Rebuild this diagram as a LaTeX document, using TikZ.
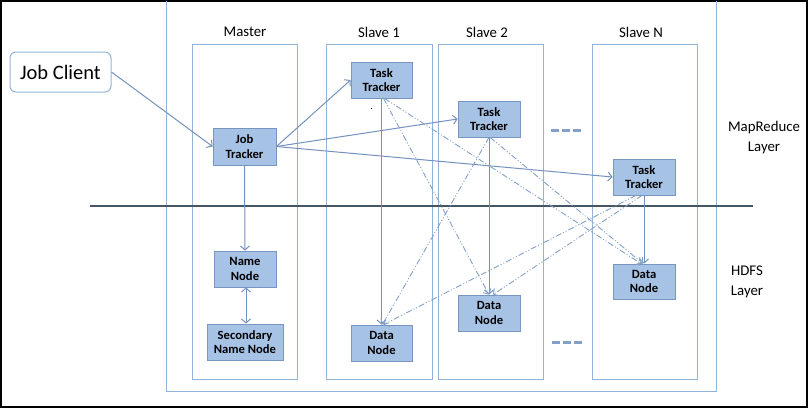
\documentclass[tikz,border=0pt]{standalone}
\usepackage{fontspec}
\setmainfont{Carlito}
\usetikzlibrary{arrows.meta}
\definecolor{boxline}{RGB}{149,179,215}
\definecolor{nodefill}{RGB}{166,195,230}
\definecolor{nodeline}{RGB}{120,150,192}
\definecolor{conn}{RGB}{115,145,190}
\definecolor{dashc}{RGB}{130,160,200}
\definecolor{layerline}{RGB}{70,85,100}
\begin{document}
\begin{tikzpicture}[x=1pt,y=-1pt,
  comp/.style={draw=nodeline, fill=nodefill, line width=0.8pt, minimum width=62pt, minimum height=36pt, inner sep=0pt, align=center, font=\fontsize{12.6}{14.5}\selectfont\bfseries},
  slavebox/.style={draw=boxline, line width=1pt},
  title/.style={font=\fontsize{14.8}{20}\selectfont, align=center, inner sep=0pt},
  arr/.style={draw=conn, line width=1pt, -{Straight Barb[length=4pt,width=9pt]}},
  dd/.style={draw=dashc, line width=0.9pt, dash pattern=on 6pt off 2pt on 1pt off 2pt on 1pt off 2pt, -{Straight Barb[length=4pt,width=9pt]}},
  dots/.style={draw=dashc, line width=3pt, dash pattern=on 8pt off 3pt}
]
\useasboundingbox (0,0) rectangle (808,408);
% outer frame
\draw[black, line width=2pt] (1,1) rectangle (807,407);
% big box
\draw[slavebox] (166,1) -- (166,391) -- (716,391) -- (716,1);
% columns
\draw[slavebox] (192,44) rectangle (297,379);
\draw[slavebox] (326,44) rectangle (432,379);
\draw[slavebox] (438,44) rectangle (543,379);
\draw[slavebox] (592,44) rectangle (697,379);
% column titles
\node[title] (tmaster) at (245,32) {Master};
\node[title] (tslave1) at (379,32) {Slave 1};
\node[title] (tslave2) at (487,32) {Slave 2};
\node[title] (tslaven) at (641,32) {Slave N};
% layer line
\draw[layerline, line width=1.6pt] (90,206) -- (753,206);
% layer labels
\node[title] (mrl) at (764,138) {MapReduce\\Layer};
\node[title] (hdfsl) at (747,282) {HDFS\\Layer};
% job client
\node[draw=boxline, line width=1pt, rounded corners=6pt, minimum width=101pt, minimum height=40pt, font=\fontsize{20.5}{24}\selectfont, inner sep=0pt] (jc) at (60.5,72) {Job Client};
% components
\node[comp, minimum width=63pt, minimum height=37pt] (jt) at (244.5,146.5) {Job\\Tracker};
\node[comp, minimum width=61pt] (tt1) at (381.5,80) {Task\\Tracker};
\node[comp] (tt2) at (489,119) {Task\\Tracker};
\node[comp] (ttn) at (644,177) {Task\\Tracker};
\node[comp] (nn) at (245,269) {Name\\Node};
\node[comp, minimum width=76pt] (snn) at (245,342) {Secondary\\Name Node};
\node[comp, minimum width=61pt] (dn1) at (381.5,343) {Data\\Node};
\node[comp] (dn2) at (489,313) {Data\\Node};
\node[comp, minimum height=35pt] (dnn) at (644,281.5) {Data\\Node};
% stray mark
\fill[black] (370.5,107.5) rectangle (372,109);
% ellipsis dashes
\draw[dots] (551,130) -- (581,130);
\draw[dots] (552,342) -- (582,342);
% connectors
\draw[arr] (jc.east) -- (jt.west);
\draw[arr] (jt.east) -- (tt1.west);
\draw[arr] (jt.east) -- (tt2.west);
\draw[arr] (jt.east) -- (ttn.west);
\draw[arr] (jt.south) -- (nn.north);
\draw[draw=conn, line width=1pt, {Straight Barb[length=4pt,width=9pt]}-{Straight Barb[length=4pt,width=9pt]}] ([xshift=1pt]nn.south) -- ([xshift=1pt]snn.north);
\draw[arr] (tt1.south) -- (dn1.north);
\draw[arr] (tt2.south) -- (dn2.north);
\draw[arr] (ttn.south) -- (dnn.north);
% dash-dot cross links
\draw[dd] ([xshift=2pt]tt1.south) -- (dn2.north);
\draw[dd] ([xshift=3pt]tt1.south) -- ([xshift=-3pt]dnn.north);
\draw[dd] (tt2.south) -- ([xshift=1pt]dn1.north);
\draw[dd] ([xshift=1pt]tt2.south) -- ([xshift=-1pt]dnn.north);
\draw[dd] ([xshift=-8pt]ttn.south) -- ([xshift=2pt]dn1.north);
\draw[dd] ([xshift=-2pt]ttn.south) -- ([xshift=4pt]dn2.north);
\end{tikzpicture}
\end{document}
